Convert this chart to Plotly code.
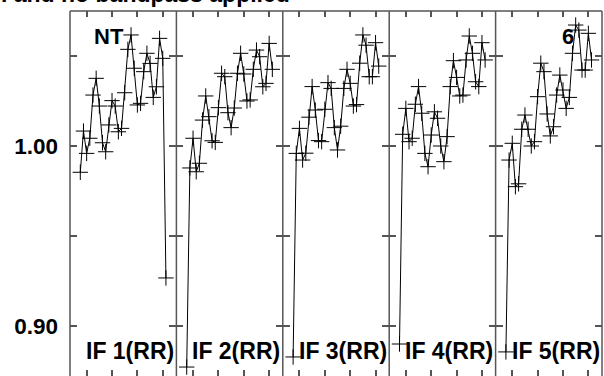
import plotly.graph_objects as go
from plotly.subplots import make_subplots

channels = list(range(1, 29))

if1 = [0.9854, 1.0083, 0.9959, 1.0043, 1.0283, 1.0376, 1.0222, 1.0018, 0.9968, 1.0117,
       1.0252, 1.0222, 1.0079, 1.0098, 1.0296, 1.0537, 1.0617, 1.0432, 1.0228, 1.0237,
       1.0413, 1.0515, 1.0459, 1.0270, 1.0329, 1.0598, 1.0487, 0.9267]
if2 = [0.8772, 0.9878, 1.0043, 0.9857, 0.9904, 1.0144, 1.0278, 1.0163, 1.0029, 1.0020,
       1.0213, 1.0404, 1.0385, 1.0185, 1.0102, 1.0211, 1.0404, 1.0515, 1.0400, 1.0250,
       1.0256, 1.0426, 1.0533, 1.0496, 1.0329, 1.0348, 1.0570, 1.0426]
if3 = [0.8828, 0.9959, 1.0098, 0.9922, 0.9960, 1.0160, 1.0330, 1.0200, 1.0030, 1.0024,
       1.0204, 1.0352, 1.0320, 1.0102, 0.9978, 1.0110, 1.0320, 1.0426, 1.0348, 1.0222,
       1.0230, 1.0460, 1.0617, 1.0560, 1.0385, 1.0385, 1.0574, 1.0444]
if4 = [0.8900, 1.0065, 1.0209, 1.0024, 1.0043, 1.0232, 1.0330, 1.0182, 0.9959, 0.9885,
       1.0061, 1.0190, 1.0154, 1.0000, 0.9913, 1.0052, 1.0330, 1.0474, 1.0381, 1.0278,
       1.0283, 1.0478, 1.0611, 1.0515, 1.0357, 1.0330, 1.0574, 1.0478]
if5 = [0.8856, 0.9922, 1.0015, 0.9774, 0.9790, 1.0093, 1.0172, 1.0093, 1.0000, 1.0024,
       1.0274, 1.0460, 1.0413, 1.0178, 1.0056, 1.0107, 1.0283, 1.0394, 1.0311, 1.0209,
       1.0270, 1.0515, 1.0672, 1.0644, 1.0422, 1.0422, 1.0626, 1.0478]

panels = [if1, if2, if3, if4, if5]
panel_labels = ["IF 1(RR)", "IF 2(RR)", "IF 3(RR)", "IF 4(RR)", "IF 5(RR)"]
x_tickvals = [3, 11, 19, 27]
y_tickvals = [0.90, 0.95, 1.00, 1.05]
y_ticktext = ["0.90", "", "1.00", ""]
title_text = "l and no bandpass applied"
source_label = "NT"
corner_label = "6"

W, H = 604, 376
ML, MR, MT, MB = 70, 2, 11, 0
PW = W - ML - MR
PH = H - MT - MB

FONT = "Liberation Sans, Arial, Helvetica, sans-serif"
FRAME = "#555555"

fig = make_subplots(rows=1, cols=5, shared_yaxes=True, horizontal_spacing=0)

for i, vals in enumerate(panels):
    fig.add_trace(go.Scatter(
        x=channels, y=vals, mode="lines+markers",
        line=dict(color="black", width=1),
        marker=dict(symbol="cross-thin", size=11, line=dict(color="black", width=1)),
        showlegend=False, hoverinfo="skip"), row=1, col=i + 1)
    fig.update_xaxes(range=[-2.25, 31.3], tickvals=x_tickvals, ticks="inside",
                     ticklen=6, tickwidth=1.5, tickcolor=FRAME, mirror="ticks",
                     showline=False, showgrid=False, zeroline=False,
                     showticklabels=False, row=1, col=i + 1)
    fig.update_yaxes(range=[0.87222, 1.075], tickvals=y_tickvals, ticktext=y_ticktext,
                     ticks="inside", ticklen=7, tickwidth=1.5, tickcolor=FRAME,
                     mirror="ticks", showline=False, showgrid=False, zeroline=False,
                     row=1, col=i + 1)

fig.update_yaxes(showticklabels=True, ticklabelstandoff=11,
                 tickfont=dict(family=FONT, size=22.5, color="black", weight="bold"),
                 row=1, col=1)

shapes = []
for k in range(6):
    shapes.append(dict(type="line", xref="paper", yref="paper", x0=k / 5, x1=k / 5,
                       y0=0, y1=1, line=dict(color=FRAME, width=1.5)))
shapes.append(dict(type="line", xref="paper", yref="paper", x0=0, x1=1, y0=1, y1=1,
                   line=dict(color=FRAME, width=1.5)))


def px_x(p):
    return (p - ML) / PW


def px_y(p):
    return (H - MB - p) / PH


afont = dict(family=FONT, size=23, color="black", weight="bold")
sfont = dict(family=FONT, size=22, color="black", weight="bold")
annotations = []
for k, lab in enumerate(panel_labels):
    annotations.append(dict(text=lab, xref="paper", yref="paper",
                            x=(k + 1) / 5 - 1.5 / PW, y=px_y(350.5),
                            xanchor="right", yanchor="middle", showarrow=False,
                            font=afont, borderpad=0))
annotations.append(dict(text=source_label, xref="paper", yref="paper",
                        x=px_x(93), y=px_y(36), xanchor="left", yanchor="middle",
                        showarrow=False, font=sfont, borderpad=0))
annotations.append(dict(text=corner_label, xref="paper", yref="paper",
                        x=px_x(575), y=px_y(36), xanchor="right", yanchor="middle",
                        showarrow=False, font=sfont, borderpad=0))
annotations.append(dict(text=title_text, xref="paper", yref="paper",
                        x=px_x(0), y=px_y(-6.5), xanchor="left", yanchor="middle",
                        showarrow=False, font=afont, borderpad=0))

fig.update_layout(width=W, height=H,
                  margin=dict(l=ML, r=MR, t=MT, b=MB, pad=0),
                  paper_bgcolor="white", plot_bgcolor="white",
                  shapes=shapes, annotations=annotations,
                  font=dict(family=FONT, color="black"))

fig.write_html("out.html", config={"displayModeBar": False},
               post_script="document.body.style.margin='0';document.body.style.overflow='hidden';")
